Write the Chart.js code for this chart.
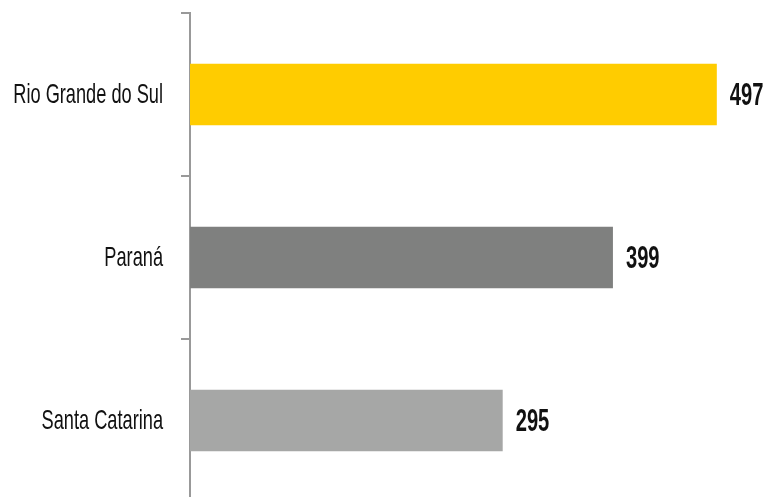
<!DOCTYPE html>
<html>
<head>
<meta charset="utf-8">
<script src="https://cdn.jsdelivr.net/npm/chart.js@4"></script>
<style>
  html, body { margin: 0; padding: 0; background: #fff; overflow: hidden; }
  #wrap { width: 768px; height: 502px; position: relative; }
</style>
</head>
<body>
<div id="wrap"><canvas id="estados"></canvas></div>
<script>
const estados = ['Rio Grande do Sul', 'Paraná', 'Santa Catarina'];
const valores = [497, 399, 295];
const cores = ['#ffcc00', '#7f807f', '#a6a7a6'];

const FONTE = '"Liberation Sans", Arial, sans-serif';
const APERTO = 0.65; // horizontal squeeze to get a condensed look

// draws text squeezed horizontally, anchored at x
function textoEstreito(ctx, txt, x, y, align) {
    ctx.save();
    ctx.translate(x, y);
    ctx.scale(APERTO, 1);
    ctx.textAlign = align;
    ctx.textBaseline = 'middle';
    ctx.fillText(txt, 0, 0);
    ctx.restore();
}

// category names on the left and values past the end of each bar
const rotulos = {
    id: 'rotulos',
    afterDatasetsDraw(chart) {
        const ctx = chart.ctx;
        const meta = chart.getDatasetMeta(0);
        const eixo = chart.scales.y;
        ctx.save();
        ctx.fillStyle = '#111';
        ctx.font = '28px ' + FONTE;
        estados.forEach(function(nome, i) {
            textoEstreito(ctx, nome, eixo.right - 27, eixo.getPixelForValue(i) + 1, 'right');
        });
        ctx.font = 'bold 31px ' + FONTE;
        meta.data.forEach(function(bar, i) {
            textoEstreito(ctx, String(valores[i]), bar.x + 13, bar.y + 2, 'left');
        });
        ctx.restore();
    }
};

document.addEventListener("DOMContentLoaded", function() {
    const ctx = document.getElementById('estados').getContext('2d');
    new Chart(ctx, {
        type: 'bar',
        data: {
            labels: estados,
            datasets: [{
                data: valores,
                backgroundColor: cores,
                borderWidth: 0,
                categoryPercentage: 1,
                barPercentage: 0.378
            }]
        },
        options: {
            indexAxis: 'y',
            responsive: true,
            maintainAspectRatio: false,
            animation: false,
            layout: { padding: { top: 13, right: 48, bottom: 0, left: 0 } },
            plugins: {
                legend: { display: false },
                tooltip: { enabled: false }
            },
            scales: {
                x: {
                    display: false,
                    min: 0,
                    max: 500
                },
                y: {
                    offset: true,
                    afterFit: function(scale) {
                        scale.width = 190;
                        scale.paddingTop = 0;
                        scale.paddingBottom = 0;
                    },
                    border: { color: '#999', width: 2 },
                    grid: {
                        offset: true,
                        drawOnChartArea: false,
                        color: '#999',
                        lineWidth: 2,
                        tickLength: 9
                    },
                    ticks: { display: false }
                }
            }
        },
        plugins: [rotulos]
    });
});
</script>
</body>
</html>
